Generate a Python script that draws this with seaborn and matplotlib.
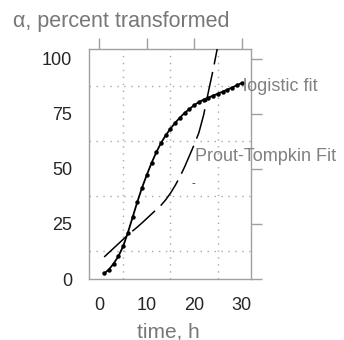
import matplotlib
matplotlib.use("Agg")
import matplotlib.pyplot as plt
import seaborn as sns
import pandas as pd
import numpy as np

# ---- data ----
time_h = list(range(1, 31))
logistic = [2.5, 4.3, 7.0, 10.3, 14.8, 21.0, 28.0, 35.0, 41.5, 47.3,
            52.7, 57.5, 61.8, 65.3, 68.3, 71.0, 73.3, 75.5, 77.2, 79.0,
            80.4, 81.5, 82.4, 83.3, 84.2, 85.1, 86.0, 87.0, 88.0, 89.0]
pt_time = list(range(1, 26))
prout_tompkin = [10.0, 12.0, 14.0, 16.0, 18.0, 20.0, 21.8, 23.6, 25.5, 27.5,
                 29.5, 31.5, 33.5, 36.0, 39.0, 42.5, 46.5, 51.0, 56.0, 61.0,
                 66.5, 74.5, 85.0, 95.0, 106.0]
x_ticks = [0, 10, 20, 30]
y_ticks = [0, 25, 50, 75, 100]
x_grid = [5, 15, 25]
y_grid = [12.5, 37.5, 62.5, 87.5]

df_log = pd.DataFrame({"t": time_h, "alpha": logistic})
df_pt = pd.DataFrame({"t": pt_time, "alpha": prout_tompkin})

sns.set_style("white")
plt.rcParams["font.family"] = ["Liberation Sans", "DejaVu Sans"]

W, H = 344, 340
fig = plt.figure(figsize=(W / 100, H / 100), dpi=100)
ax = fig.add_axes([89 / W, 61 / H, 162 / W, 230 / H])

sns.lineplot(data=df_log, x="t", y="alpha", ax=ax, color="black", lw=1.3,
             marker="o", markersize=3.2, markeredgewidth=0, zorder=3)
sns.lineplot(data=df_pt, x="t", y="alpha", ax=ax, color="black", lw=1.1, zorder=3)
ax.lines[-1].set_dashes((20, 5))

ax.set_xlim(-2.2, 32)
ax.set_ylim(0, 104.5)
ax.set_xticks(x_ticks)
ax.set_yticks(y_ticks)
ax.set_xticks(x_grid, minor=True)
ax.set_yticks(y_grid, minor=True)
ax.grid(False)
ax.grid(True, which="minor", linestyle=(0, (1, 4)), color="#a8a8a8", lw=1.0)
ax.set_xlabel("")
ax.set_ylabel("")

spine_col = "#a0a0a0"
for s in ax.spines.values():
    s.set_color(spine_col)
    s.set_linewidth(1.0)
ax.tick_params(which="major", direction="out", length=8, width=1.0,
               color=spine_col, top=True, right=True, labeltop=False,
               labelright=False, labelsize=13, labelcolor="#262626")
ax.tick_params(axis="x", which="major", pad=5)
ax.tick_params(axis="y", which="major", pad=4)
ax.tick_params(which="minor", length=0)

fig.text(13 / W, 1 - 27 / H, "α, percent transformed", fontsize=15.5,
         color="#777777", ha="left", va="baseline")
fig.text(168 / W, 3 / H, "time, h", fontsize=15, color="#777777",
         ha="center", va="baseline")

ax.text(30.3, 87.3, "logistic fit", fontsize=13, color="#808080",
        ha="left", va="center", clip_on=False)
ax.text(20.2, 55.5, "Prout-Tompkin Fit", fontsize=13, color="#808080",
        ha="left", va="center", clip_on=False)
ax.text(19.8, 43.6, "-", fontsize=8, color="#222222", ha="center", va="center")

fig.savefig("out.png", dpi=100)
